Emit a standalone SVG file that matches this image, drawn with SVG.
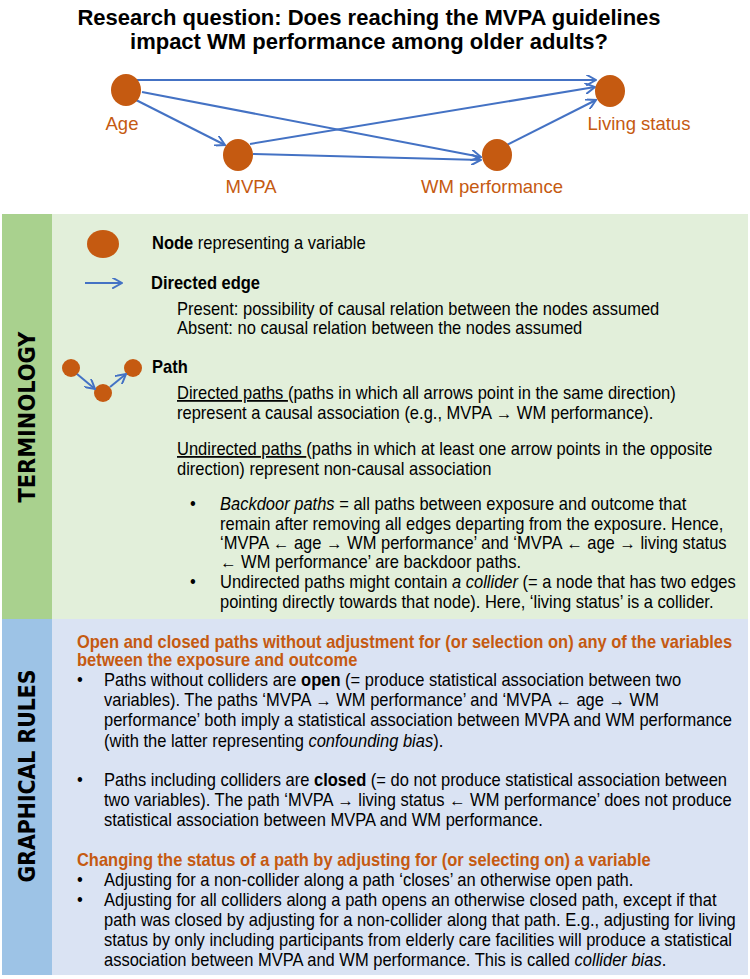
<svg xmlns="http://www.w3.org/2000/svg" width="750" height="979" viewBox="0 0 750 979">
<style>
.t{font-family:"Liberation Sans",Arial,sans-serif;font-size:17.5px;fill:#000}
.b{font-weight:bold}
.i{font-style:italic}
.u{text-decoration:underline}
.h{font-family:"Liberation Sans",Arial,sans-serif;font-size:17.5px;font-weight:bold;fill:#c55a11}
.lbl{font-family:"Liberation Sans",Arial,sans-serif;font-size:18.5px;fill:#c55a11}
.title{font-family:"Liberation Sans",Arial,sans-serif;font-size:22px;font-weight:bold;fill:#000}
.side{font-family:"DejaVu Sans",Verdana,sans-serif;font-size:23px;font-weight:bold;fill:#000}
.node{fill:#c55a11}
.edge{stroke:#4472c4;stroke-width:2;fill:none}
</style>
<defs>
<marker id="ah" viewBox="0 0 10 10" refX="9" refY="5" markerWidth="11" markerHeight="11" markerUnits="userSpaceOnUse" orient="auto">
<path d="M0,0 L9,5 L0,10" fill="none" stroke="#4472c4" stroke-width="1.8"/>
</marker>
</defs>
<rect width="750" height="979" fill="#fff"/>
<g id="title">
<text class="title" x="369" y="25" text-anchor="middle">Research question: Does reaching the MVPA guidelines</text>
<text class="title" x="369" y="49" text-anchor="middle">impact WM performance among older adults?</text>
</g>
<g id="connectors">
<line class="edge" x1="137" y1="80" x2="596" y2="80" marker-end="url(#ah)"/>
<line class="edge" x1="142" y1="92" x2="481" y2="157" marker-end="url(#ah)"/>
<line class="edge" x1="136" y1="100" x2="225" y2="145" marker-end="url(#ah)"/>
<line class="edge" x1="250" y1="144" x2="595" y2="87" marker-end="url(#ah)"/>
<line class="edge" x1="253" y1="154" x2="481" y2="160" marker-end="url(#ah)"/>
<line class="edge" x1="507" y1="145" x2="596" y2="100" marker-end="url(#ah)"/>
</g>
<g id="node-age"><ellipse class="node" cx="126" cy="90" rx="15" ry="16"/><text class="lbl" x="122" y="130" text-anchor="middle">Age</text></g>
<g id="node-mvpa"><ellipse class="node" cx="238" cy="155" rx="15" ry="16"/><text class="lbl" x="251" y="193" text-anchor="middle">MVPA</text></g>
<g id="node-wm"><ellipse class="node" cx="497" cy="155" rx="15" ry="16"/><text class="lbl" x="492" y="193" text-anchor="middle">WM performance</text></g>
<g id="node-living"><ellipse class="node" cx="610" cy="91" rx="15" ry="16"/><text class="lbl" x="639" y="130" text-anchor="middle">Living status</text></g>

<g id="panel-terminology">
<rect x="2" y="214" width="746" height="405" fill="#e2efda"/>
<rect x="2" y="214" width="50" height="405" fill="#a9d18e"/>
<text class="side" transform="translate(35,417) rotate(-90)" text-anchor="middle" textLength="171" lengthAdjust="spacingAndGlyphs">TERMINOLOGY</text>
<ellipse class="node" cx="103" cy="244" rx="16" ry="14"/>
<line class="edge" x1="85" y1="283" x2="122" y2="283" marker-end="url(#ah)"/>
<circle class="node" cx="71" cy="368" r="9"/>
<circle class="node" cx="103" cy="393" r="9"/>
<circle class="node" cx="133" cy="368" r="9"/>
<line class="edge" x1="77" y1="374" x2="95" y2="389" marker-end="url(#ah)"/>
<line class="edge" x1="110" y1="387" x2="126" y2="374" marker-end="url(#ah)"/>
<g transform="scale(0.943,1)">
<text class="t" x="161.2" y="249"><tspan class="b">Node</tspan> representing a variable</text>
<text class="t b" x="160.1" y="289">Directed edge</text>
<text class="t" x="187.7" y="315">Present: possibility of causal relation between the nodes assumed</text>
<text class="t" x="187.7" y="334">Absent: no causal relation between the nodes assumed</text>
<text class="t b" x="161.2" y="373">Path</text>
<text class="t" x="187.7" y="399"><tspan class="u">Directed paths </tspan>(paths in which all arrows point in the same direction)</text>
<text class="t" x="187.7" y="419">represent a causal association (e.g., MVPA → WM performance).</text>
<text class="t" x="187.7" y="455"><tspan class="u">Undirected paths </tspan>(paths in which at least one arrow points in the opposite</text>
<text class="t" x="187.7" y="475">direction) represent non-causal association</text>
<text class="t" x="201.5" y="510">•</text>
<text class="t" x="233.3" y="510"><tspan class="i">Backdoor paths</tspan> = all paths between exposure and outcome that</text>
<text class="t" x="233.3" y="530">remain after removing all edges departing from the exposure. Hence,</text>
<text class="t" x="233.3" y="549">‘MVPA ← age → WM performance’ and ‘MVPA ← age → living status</text>
<text class="t" x="233.3" y="568">← WM performance’ are backdoor paths.</text>
<text class="t" x="201.5" y="588">•</text>
<text class="t" x="233.3" y="588">Undirected paths might contain <tspan class="i">a collider</tspan> (= a node that has two edges</text>
<text class="t" x="233.3" y="608">pointing directly towards that node). Here, ‘living status’ is a collider.</text>
</g>
</g>

<g id="panel-rules">
<rect x="2" y="619" width="746" height="356" fill="#dae3f3"/>
<rect x="2" y="619" width="50" height="356" fill="#9dc3e6"/>
<text class="side" transform="translate(35,776) rotate(-90)" text-anchor="middle" textLength="213" lengthAdjust="spacingAndGlyphs">GRAPHICAL RULES</text>
<g transform="scale(0.943,1)">
<text class="h" x="81.6" y="648">Open and closed paths without adjustment for (or selection on) any of the variables</text>
<text class="h" x="81.6" y="666">between the exposure and outcome</text>
<text class="t" x="81.6" y="686">•</text>
<text class="t" x="110.3" y="686">Paths without colliders are <tspan class="b">open</tspan> (= produce statistical association between two</text>
<text class="t" x="110.3" y="706">variables). The paths ‘MVPA → WM performance’ and ‘MVPA ← age → WM</text>
<text class="t" x="110.3" y="726">performance’ both imply a statistical association between MVPA and WM performance</text>
<text class="t" x="110.3" y="747">(with the latter representing <tspan class="i">confounding bias</tspan>).</text>
<text class="t" x="81.6" y="786">•</text>
<text class="t" x="110.3" y="786">Paths including colliders are <tspan class="b">closed</tspan> (= do not produce statistical association between</text>
<text class="t" x="110.3" y="806">two variables). The path ‘MVPA → living status ← WM performance’ does not produce</text>
<text class="t" x="110.3" y="826">statistical association between MVPA and WM performance.</text>
<text class="h" x="81.6" y="866">Changing the status of a path by adjusting for (or selecting on) a variable</text>
<text class="t" x="81.6" y="886">•</text>
<text class="t" x="110.3" y="886">Adjusting for a non-collider along a path ‘closes’ an otherwise open path.</text>
<text class="t" x="81.6" y="906">•</text>
<text class="t" x="110.3" y="906">Adjusting for all colliders along a path opens an otherwise closed path, except if that</text>
<text class="t" x="110.3" y="926">path was closed by adjusting for a non-collider along that path. E.g., adjusting for living</text>
<text class="t" x="110.3" y="946">status by only including participants from elderly care facilities will produce a statistical</text>
<text class="t" x="110.3" y="966">association between MVPA and WM performance. This is called <tspan class="i">collider bias</tspan>.</text>
</g>
</g>
</svg>
